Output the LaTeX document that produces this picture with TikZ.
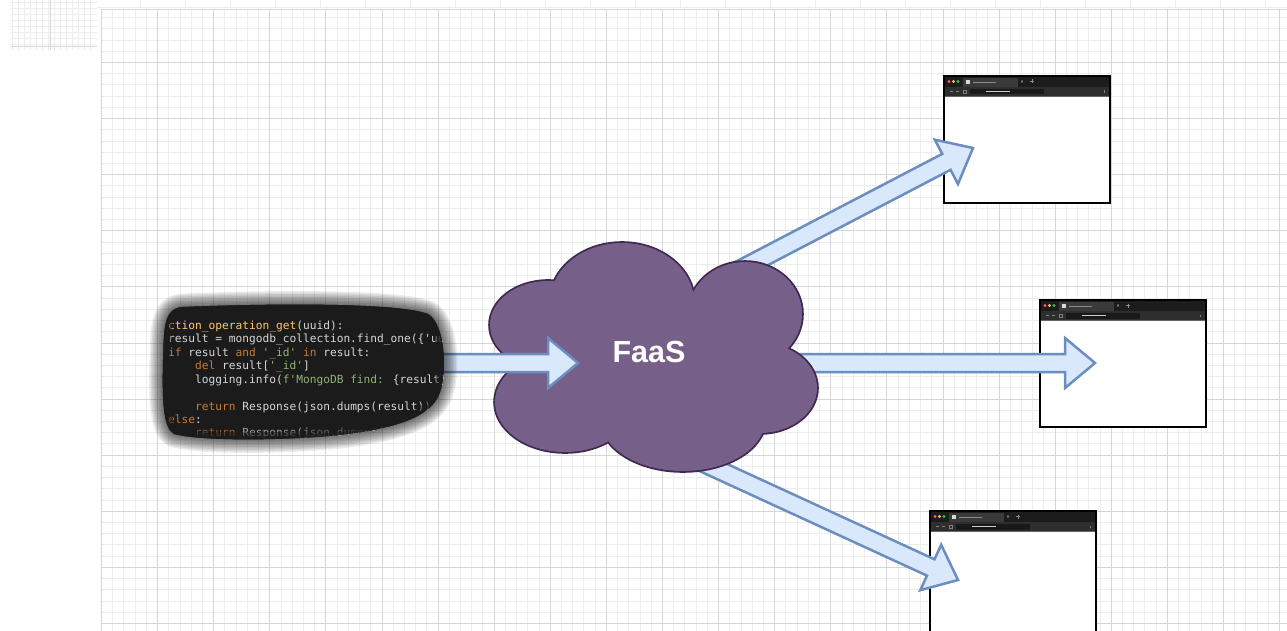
\documentclass[tikz,border=0pt]{standalone}
\usepackage{fontspec}
\setmainfont{Liberation Sans}
\newfontfamily\codefont{DejaVu Sans Mono}
\usetikzlibrary{calc}

\definecolor{faasfill}{HTML}{76608A}
\definecolor{faasline}{HTML}{3E2A50}
\definecolor{arrfill}{HTML}{DAE8FC}
\definecolor{arrline}{HTML}{6C8EBF}
\definecolor{gridminor}{HTML}{EDEDED}
\definecolor{gridmajor}{HTML}{D6D6D6}
\definecolor{kw}{HTML}{CC7832}
\definecolor{fn}{HTML}{FFC66D}
\definecolor{str}{HTML}{8FB573}
\definecolor{codetxt}{HTML}{D6D6D6}
\definecolor{codebg}{HTML}{1B1B1B}
\definecolor{tbar}{HTML}{1C1C1C}
\definecolor{abar}{HTML}{2E2E2E}
\definecolor{tabc}{HTML}{3A3A3A}
\definecolor{dotr}{HTML}{FF5F57}
\definecolor{doty}{HTML}{FEBC2E}
\definecolor{dotg}{HTML}{28C840}

\newcommand\qq{\char39\relax}
\newcommand\fatarr[2]{%
  \path ($(#2)!30pt!(#1)$) coordinate (hb);
  \draw[fatarrow] ($(#1)!9pt!90:(#2)$) -- ($(hb)!9pt!90:(#2)$) -- ($(hb)!25pt!90:(#2)$) -- (#2)
     -- ($(hb)!25pt!-90:(#2)$) -- ($(hb)!9pt!-90:(#2)$) -- ($(#1)!9pt!-90:(#2)$) -- cycle;
}
\newcommand\brwin[3]{%
  \begin{scope}[shift={(#2,#3)}]
    \fill[white] (0,0) rectangle (166,127);
    \fill[tbar] (0,0) rectangle (166,11);
    \fill[abar] (0,11) rectangle (166,20);
    \draw[black!60, line width=0.4] (0,20) -- (166,20);
    \fill[dotr] (5,5.5) circle (1.6);
    \fill[doty] (9.5,5.5) circle (1.6);
    \fill[dotg] (14,5.5) circle (1.6);
    \fill[tabc] (19,2) rectangle (74,11);
    \fill[white!85!black] (22,4) rectangle (26,8);
    \fill[white!55!black] (29,5.6) rectangle (52,6.6);
    \draw[white!55!black, line width=0.5] (77,4.5) -- (79,6.5) (77,6.5) -- (79,4.5);
    \draw[white!55!black, line width=0.5] (86,5.5) -- (90,5.5) (88,3.5) -- (88,7.5);
    \draw[white!50!black, line width=0.6] (6,15.5) -- (9,15.5) (12,15.5) -- (15,15.5);
    \draw[white!50!black, line width=0.6] (19,14) rectangle (22,17);
    \fill[black!90] (26,13) rectangle (100,18.5);
    \fill[white!80!black] (42,15.3) rectangle (66,16.3);
    \fill[white!50!black] (160,14.5) rectangle (161,17);
    \draw[black, line width=2] (0,0) rectangle (166,127);
    \node[inner sep=0, minimum width=166pt, minimum height=127pt, anchor=north west] (#1) at (0,0) {};
  \end{scope}
}
\def\blobpath{(182,307) .. controls (280,303) and (400,303) .. (428,314) .. controls (446,324) and (448,378) .. (438,397) .. controls (428,416) and (400,428) .. (340,435) .. controls (280,441) and (200,441) .. (174,434) .. controls (163,428) and (162,400) .. (163,360) .. controls (164,330) and (163,309) .. (182,307) -- cycle}

\tikzset{
  fatarrow/.style={draw=arrline, fill=arrfill, line width=2.5, line join=miter},
  minorln/.style={draw=gridminor, line width=1},
  majorln/.style={draw=gridmajor, line width=1},
  codeln/.style={anchor=base west, inner sep=0, text=codetxt, font=\codefont\fontsize{11.2}{13}\selectfont},
}

\begin{document}
\begin{tikzpicture}[x=1pt,y=-1pt]
\useasboundingbox (0,0) rectangle (1287,631);
\fill[white] (0,0) rectangle (1287,631);

% small grid top-left
\foreach \i in {0,...,13} \draw[minorln] ({12.5+6*\i},0) -- ({12.5+6*\i},50);
\foreach \j in {0,...,7} \draw[minorln] (10,{2.5+6*\j}) -- (97,{2.5+6*\j});
\draw[majorln] (50.5,0) -- (50.5,50);
\draw[majorln] (10,46.5) -- (97,46.5);
% top strip
\foreach \i in {0,...,26} \draw[minorln] ({140.5+45*\i},0) -- ({140.5+45*\i},8);
\draw[minorln] (97,7.5) -- (1287,7.5);

% main grid (snapped to pixel centres)
\foreach \i in {0,...,105} {
  \pgfmathsetmacro\xx{round(101+11.22*\i)+0.5}
  \draw[minorln] (\xx,9) -- (\xx,631);
}
\foreach \j in {1,...,55} {
  \pgfmathsetmacro\yy{round(5.9+11.22*\j)+0.5}
  \draw[minorln] (101,\yy) -- (1287,\yy);
}
\foreach \i in {0,...,21} {
  \pgfmathsetmacro\xx{round(101+56.1*\i)+0.5}
  \draw[majorln] (\xx,9) -- (\xx,631);
}
\foreach \j in {1,...,11} {
  \pgfmathsetmacro\yy{round(5.9+56.1*\j)+0.5}
  \draw[majorln] (101,\yy) -- (1287,\yy);
}
\draw[majorln] (101,9.5) -- (1287,9.5);

% browser windows
\brwin{b1}{944}{76}
\brwin{b2}{1040}{300}
\brwin{b3}{930}{511}

% connector end points
\coordinate (s1) at (720,280);
\coordinate (t1) at (973,148);
\coordinate (s2) at (780,363);
\coordinate (t2) at (1095,363);
\coordinate (s3) at (660,443);
\coordinate (t3) at (958,580);
\coordinate (s0) at (400,363);
\coordinate (t0) at (578,363);

% output arrows
\fatarr{s1}{t1}
\fatarr{s2}{t2}
\fatarr{s3}{t3}

% cloud
\foreach \cx/\cy/\rx/\ry in {622/302/72/59, 548/325/58/44, 745/314/57/52, 760/388/57/45, 683/420/82/51, 565/402/70/50, 655/365/130/75}
  \filldraw[fill=faasfill, draw=faasline, line width=3.6] (\cx,\cy) ellipse [x radius=\rx, y radius=\ry];
\foreach \cx/\cy/\rx/\ry in {622/302/72/59, 548/325/58/44, 745/314/57/52, 760/388/57/45, 683/420/82/51, 565/402/70/50, 655/365/130/75}
  \fill[faasfill] (\cx,\cy) ellipse [x radius=\rx, y radius=\ry];
\node[text=white, font=\bfseries\fontsize{30.5}{36}\selectfont, anchor=base, inner sep=0] (faas) at (649,362) {FaaS};

% input arrow
\fatarr{s0}{t0}

% code blob
\foreach \w in {3,6,...,27}
  \draw[line width=\w, opacity=0.08, line join=round] \blobpath;
\fill[codebg] \blobpath;
\begin{scope}
  \clip \blobpath;
  \node[codeln] (l1) at (168,329) {\textcolor{fn}{ction\_operation\_get}(uuid):};
  \node[codeln] (l2) at (168,342) {result = mongodb\_collection.find\_one(\{\qq uuid\qq: uuid\})};
  \node[codeln] (l3) at (168,356) {\textcolor{kw}{if} result \textcolor{kw}{and} \textcolor{str}{\qq\_id\qq} \textcolor{kw}{in} result:};
  \node[codeln] (l4) at (168,369) {\phantom{xxxx}\textcolor{kw}{del} result[\textcolor{str}{\qq\_id\qq}]};
  \node[codeln] (l5) at (168,383) {\phantom{xxxx}logging.info(\textcolor{str}{f\qq MongoDB find: }\{result\}\textcolor{str}{\qq})};
  \node[codeln] (l7) at (168,410) {\phantom{xxxx}\textcolor{kw}{return} Response(json.dumps(result))};
  \node[codeln] (l8) at (168,423) {\textcolor{kw}{else}:};
  \node[codeln, opacity=0.7] (l9) at (168,436) {\phantom{xxxx}\textcolor{kw}{return} Response(json.dumps(\{\}))};
  \draw[codebg, line width=14, opacity=0.5, line join=round] \blobpath;
  \draw[codebg, line width=6, opacity=0.6, line join=round] \blobpath;
\end{scope}
\end{tikzpicture}
\end{document}
